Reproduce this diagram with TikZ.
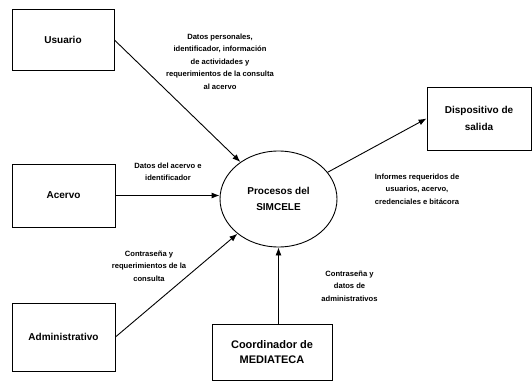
\documentclass[tikz,border=0pt]{standalone}
\usepackage{fontspec}
\setmainfont{Liberation Sans}
\usetikzlibrary{arrows.meta,shapes.geometric}
\tikzset{
  entity/.style={draw, line width=0.9pt, align=center, inner sep=0pt, font=\fontsize{10}{17}\selectfont\bfseries},
  flow/.style={draw, line width=0.9pt, -{Latex[length=8pt,width=6pt]}},
  flowlabel/.style={align=center, inner sep=0pt, font=\fontsize{7.6}{12.5}\selectfont\bfseries}
}
\begin{document}
\begin{tikzpicture}[x=1pt,y=-1pt]
\useasboundingbox[fill=white] (0,0) rectangle (532,382);
\node[entity, minimum width=102pt, minimum height=61pt] (usr) at (63,40) {Usuario};
\node[entity, minimum width=103pt, minimum height=63pt] (acv) at (63.5,195.5) {Acervo};
\node[entity, minimum width=103pt, minimum height=68pt] (adm) at (63.5,337) {Administrativo};
\node[entity, minimum width=120pt, minimum height=56pt, font=\fontsize{11}{15}\selectfont\bfseries] (crd) at (272,352) {Coordinador de\\ MEDIATECA};
\node[entity, minimum width=104pt, minimum height=63pt] (dsp) at (479,118.5) {Dispositivo de\\ salida};
\node[draw, ellipse, line width=0.9pt, minimum width=117pt, minimum height=96pt, align=center, inner sep=0pt, font=\fontsize{10}{15.5}\selectfont\bfseries] (proc) at (278.5,199) {Procesos del\\ SIMCELE};
\draw[flow] (usr.east) -- (proc);
\draw[flow] (acv.east) -- (acv.east -| proc.west);
\draw[flow] (adm.east) -- (proc);
\draw[flow] (crd.north -| proc.south) -- (proc.south);
\draw[flow] (proc) -- (dsp.west);
\node[flowlabel] (lusr) at (220,61.5) {Datos personales,\\ identificador, información\\ de actividades y\\ requerimientos de la consulta\\ al acervo};
\node[flowlabel] (lacv) at (168,172) {Datos del acervo e\\ identificador};
\node[flowlabel] (ladm) at (149,266) {Contraseña y\\ requerimientos de la\\ consulta};
\node[flowlabel] (lcrd) at (349.5,286) {Contraseña y\\ datos de\\ administrativos};
\node[flowlabel] (ldsp) at (417,189) {Informes requeridos de\\ usuarios, acervo,\\ credenciales e bitácora};
\end{tikzpicture}
\end{document}
